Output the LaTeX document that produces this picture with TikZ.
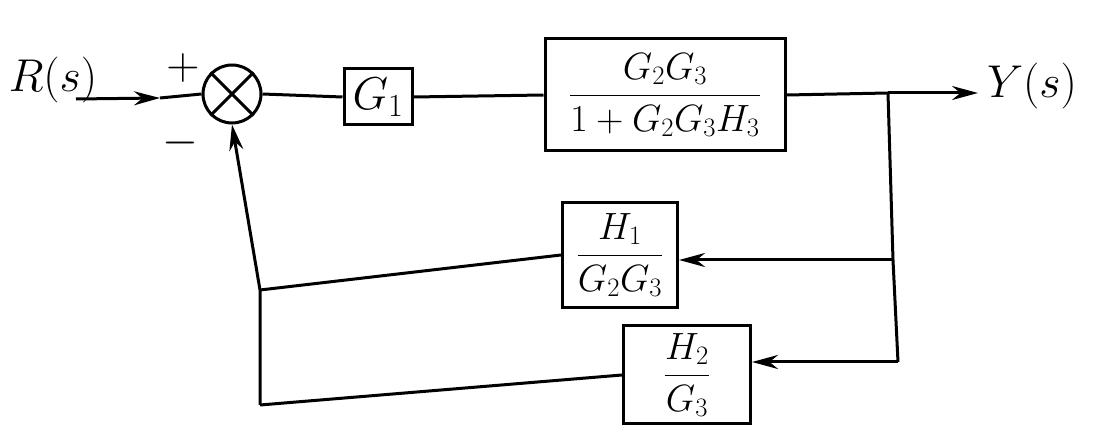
\RequirePackage{fix-cm}
\documentclass[tikz,border=0pt]{standalone}
\usepackage{amsmath}
\usetikzlibrary{arrows.meta}

\begin{document}
\begin{tikzpicture}[x=1pt,y=-1pt]
    \tikzset{block/.style={draw, line width=3pt, inner sep=0pt},
      sumnode/.style={circle, draw, line width=3pt, minimum size=58pt, inner sep=0pt},
      sig/.style={line width=3pt},
      tip/.style={-{Stealth[length=26pt,width=14pt]}},
      big/.style={font=\fontsize{46}{54}\selectfont},
      mid/.style={font=\fontsize{38}{46}\selectfont}};
\useasboundingbox (0,0) rectangle (1120,438);
%%
\node (R) at (53,80) [big] {$R(s)$};
\coordinate (in) at (76,99);
\coordinate (m) at (160,98);
\node (sum) at (232,94) [sumnode] {};
\node (plus) at (183,68) [big] {$+$};
\node (minus) at (180,143) [big] {$-$};
\node (g1) at (378,97) [block, big, minimum width=68pt, minimum height=56pt] {$G_1$};
\node (f) at (665,95) [block, mid, minimum width=240pt, minimum height=112pt] {$\dfrac{G_2G_3}{1+G_2G_3H_3}$};
\coordinate (t) at (888,93);
\coordinate (out) at (978,93);
\node (Y) at (1032,86) [big] {$Y(s)$};
\node (h1) at (620,255) [block, mid, minimum width=115pt, minimum height=105pt] {$\dfrac{H_1}{G_2G_3}$};
\node (h2) at (687,375) [block, mid, minimum width=127pt, minimum height=98pt] {$\dfrac{H_2}{G_3}$};
\coordinate (b1) at (893,260);
\coordinate (b2) at (898,362);
\coordinate (a1) at (260,290);
\coordinate (a2) at (260,405);

  \draw [sig] (sum.north west) -- (sum.south east);
  \draw [sig] (sum.north east) -- (sum.south west);

  \draw [sig, tip] (in) -- (m);
  \draw [sig] (m) -- (sum.west);
  \draw [sig] (sum.east) -- (g1.west);
  \draw [sig] (g1.east) -- (f.west);
  \draw [sig] (f.east) -- (t);
  \draw [sig, tip] (t) -- (out);
  %% feedback paths
  \draw [sig] (t) -- (b1) -- (b2);
  \draw [sig, tip] (b1) -- (h1.east |- b1);
  \draw [sig, tip] (b2) -- (h2.east |- b2);
  \draw [sig] (h1.west) -- (a1);
  \draw [sig] (h2.west) -- (a2);
  \draw [sig, tip] (a2) -- (a1) -- (sum.south);
  %
\end{tikzpicture}
\end{document}
